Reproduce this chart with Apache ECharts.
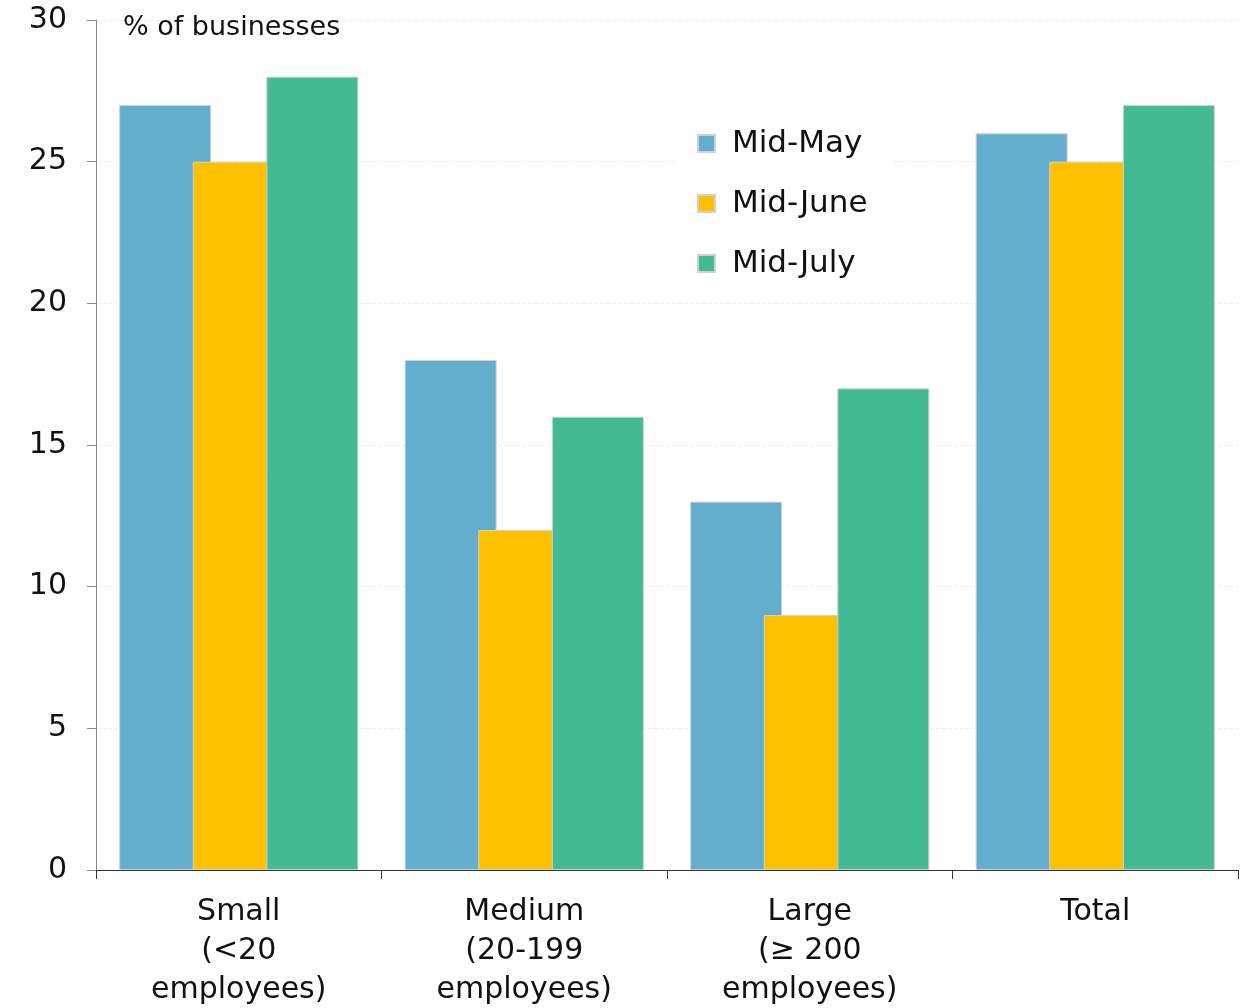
<!DOCTYPE html>
<html><head><meta charset="utf-8">
<script src="https://cdn.jsdelivr.net/npm/echarts@6/dist/echarts.min.js"></script>
<style>html,body{margin:0;padding:0;background:#fff}#c{width:1243px;height:1008px}</style>
</head><body><div id="c"></div>
<script>
const categories = ['Small\n(<20\nemployees)', 'Medium\n(20-199\nemployees)', 'Large\n(≥ 200\nemployees)', 'Total'];
const seriesNames = ['Mid-May', 'Mid-June', 'Mid-July'];
const midMay = [27, 18, 13, 26];
const midJune = [25, 12, 9, 25];
const midJuly = [28, 16, 17, 27];
const yTicks = [0, 5, 10, 15, 20, 25, 30];
const colors = ['#63AECD', '#FFC000', '#43B994'];
const FONT = 'DejaVu Sans';

const chart = echarts.init(document.getElementById('c'), null, {renderer: 'canvas'});
const values = [midMay, midJune, midJuly];
chart.setOption({
  animation: false,
  textStyle: {fontFamily: FONT},
  grid: {left: 96, right: 5, top: 20, bottom: 138, containLabel: false, outerBoundsMode: 'none'},
  title: {text: '% of businesses', left: 118, top: 9,
    textStyle: {fontFamily: FONT, fontSize: 27, fontWeight: 'normal', color: '#111'}},
  legend: {
    data: seriesNames, orient: 'vertical', left: 678, top: 120,
    itemWidth: 17, itemHeight: 17, itemGap: 29, icon: 'rect',
    backgroundColor: '#fff', padding: [8, 26, 8, 19],
    textStyle: {fontFamily: FONT, fontSize: 31, color: '#111', padding: [0, 0, 0, 12]}
  },
  xAxis: {
    type: 'category', data: categories,
    axisLine: {lineStyle: {color: '#333', width: 1}},
    axisTick: {show: true, length: 9, lineStyle: {color: '#333'}},
    axisLabel: {fontFamily: FONT, fontSize: 30, color: '#111', lineHeight: 39, margin: 23}
  },
  yAxis: {
    type: 'value', min: yTicks[0], max: yTicks[yTicks.length - 1], interval: 5,
    axisLine: {show: true, lineStyle: {color: '#888'}},
    axisTick: {show: true, length: 9, lineStyle: {color: '#888'}},
    axisLabel: {fontFamily: FONT, fontSize: 30, color: '#111', margin: 29},
    splitLine: {show: true, lineStyle: {color: '#eeeeee', type: 'dashed'}}
  },
  series: seriesNames.map((n, i) => ({
    name: n, type: 'bar', data: values[i],
    barWidth: 92, barGap: '-20%',
    itemStyle: {color: colors[i], borderColor: '#d0d0d0', borderWidth: 1}
  }))
});
</script></body></html>
